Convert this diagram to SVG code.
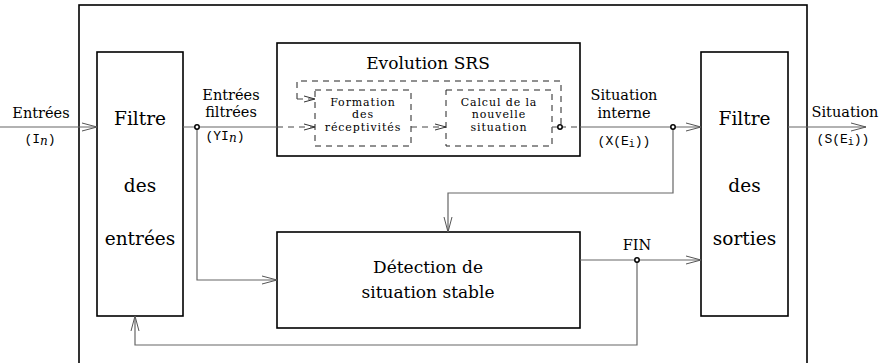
<svg xmlns="http://www.w3.org/2000/svg" width="887" height="363" viewBox="0 0 887 363">
<defs>
<style>
.box{fill:none;stroke:#000;stroke-width:1.6}
.dbox{fill:none;stroke:#222;stroke-width:1;stroke-dasharray:6,5}
.conn{fill:none;stroke:#666;stroke-width:1.2}
.dconn{fill:none;stroke:#444;stroke-width:1;stroke-dasharray:6,5}
text{font-family:'DejaVu Serif','Liberation Serif',serif;fill:#000}
.m{font-family:'Liberation Mono','DejaVu Sans Mono',monospace;font-size:13px}
.s{font-size:11px;letter-spacing:0.9px}
.l{font-size:14.5px}
.dot{fill:#fff;stroke:#000;stroke-width:1.5}
</style>
<marker id="ar" markerUnits="userSpaceOnUse" markerWidth="16" markerHeight="10" refX="15" refY="5" orient="auto">
<path d="M0,1 L15,5 L0,9" fill="none" stroke="#555" stroke-width="1"/>
</marker>
<marker id="ars" markerUnits="userSpaceOnUse" markerWidth="12" markerHeight="8" refX="11" refY="4" orient="auto">
<path d="M0,1 L11,4 L0,7" fill="none" stroke="#333" stroke-width="1"/>
</marker>
</defs>
<rect x="79" y="5" width="728" height="362" fill="#fff" stroke="#000" stroke-width="1.6"/>
<g id="filtre-entrees">
<rect class="box" x="97" y="52" width="86" height="264"/>
<text x="140" y="125" font-size="18.5" text-anchor="middle">Filtre</text>
<text x="140" y="192" font-size="18.5" text-anchor="middle">des</text>
<text x="140" y="245" font-size="18.5" text-anchor="middle">entrées</text>
</g>
<g id="filtre-sorties">
<rect class="box" x="701" y="52" width="87" height="264"/>
<text x="744.5" y="125" font-size="18.5" text-anchor="middle">Filtre</text>
<text x="744.5" y="192" font-size="18.5" text-anchor="middle">des</text>
<text x="744.5" y="245" font-size="18.5" text-anchor="middle">sorties</text>
</g>
<g id="evolution-srs">
<rect class="box" x="277" y="43" width="303" height="113"/>
<text x="428" y="69" font-size="17" text-anchor="middle">Evolution SRS</text>
<path class="dbox" d="M297,99 L297,81 L561,81 L561,126"/>
</g>
<g id="formation">
<rect class="dbox" x="315" y="90" width="96" height="56"/>
<text class="s" x="363" y="106" text-anchor="middle">Formation</text>
<text class="s" x="363" y="118" text-anchor="middle">des</text>
<text class="s" x="363" y="131" text-anchor="middle">réceptivités</text>
</g>
<g id="calcul">
<rect class="dbox" x="446" y="90" width="106" height="56"/>
<text class="s" x="499" y="106" text-anchor="middle">Calcul de la</text>
<text class="s" x="499" y="118" text-anchor="middle">nouvelle</text>
<text class="s" x="499" y="131" text-anchor="middle">situation</text>
</g>
<g id="detection">
<rect class="box" x="277" y="232" width="303" height="96"/>
<text x="428" y="273" font-size="17" text-anchor="middle">Détection de</text>
<text x="428" y="298" font-size="17" text-anchor="middle">situation stable</text>
</g>
<g id="connectors">
<path class="conn" d="M0,127 L97,127" marker-end="url(#ar)"/>
<path class="conn" d="M183,127 L277,127"/>
<path class="dconn" d="M277,127 L315,127" marker-end="url(#ars)"/>
<path class="dconn" d="M297,99 L315,99" marker-end="url(#ars)"/>
<path class="dconn" d="M411,127 L446,127" marker-end="url(#ars)"/>
<path class="conn" d="M552,127 L560,127"/>
<path class="dconn" d="M560,127 L580,127"/>
<path class="conn" d="M580,127 L701,127" marker-end="url(#ar)"/>
<path class="conn" d="M788,127 L866,127" marker-end="url(#ar)"/>
<path class="conn" d="M197,127 L197,280 L277,280" marker-end="url(#ar)"/>
<path class="conn" d="M673,127 L673,193 L448,193 L448,232" marker-end="url(#ar)"/>
<path class="conn" d="M580,260 L701,260" marker-end="url(#ar)"/>
<path class="conn" d="M637,260 L637,345 L135,345 L135,316" marker-end="url(#ar)"/>
<circle class="dot" cx="197" cy="127" r="2.2"/>
<circle class="dot" cx="560" cy="127" r="2.2"/>
<circle class="dot" cx="673" cy="127" r="2.2"/>
<circle class="dot" cx="637" cy="260" r="2.2"/>
</g>
<g id="labels">
<text class="l" x="41" y="118" text-anchor="middle">Entrées</text>
<text class="m" x="40" y="143" text-anchor="middle">(I<tspan font-family="'DejaVu Serif',serif" font-style="italic" font-size="12" dy="2">n</tspan><tspan dy="-2">)</tspan></text>
<text class="l" x="231" y="100" text-anchor="middle">Entrées</text>
<text class="l" x="231" y="117" text-anchor="middle">filtrées</text>
<text class="m" x="225" y="140" text-anchor="middle">(YI<tspan font-family="'DejaVu Serif',serif" font-style="italic" font-size="12" dy="2">n</tspan><tspan dy="-2">)</tspan></text>
<text class="l" x="624" y="100" text-anchor="middle">Situation</text>
<text class="l" x="624" y="118" text-anchor="middle">interne</text>
<text class="m" x="624" y="145" text-anchor="middle">(X(E<tspan font-size="10" dy="2">i</tspan><tspan dy="-2">))</tspan></text>
<text class="l" x="845" y="117" text-anchor="middle">Situation</text>
<text class="m" x="843" y="143" text-anchor="middle">(S(E<tspan font-size="10" dy="2">i</tspan><tspan dy="-2">))</tspan></text>
<text class="l" x="637" y="250" text-anchor="middle">FIN</text>
</g>
</svg>
